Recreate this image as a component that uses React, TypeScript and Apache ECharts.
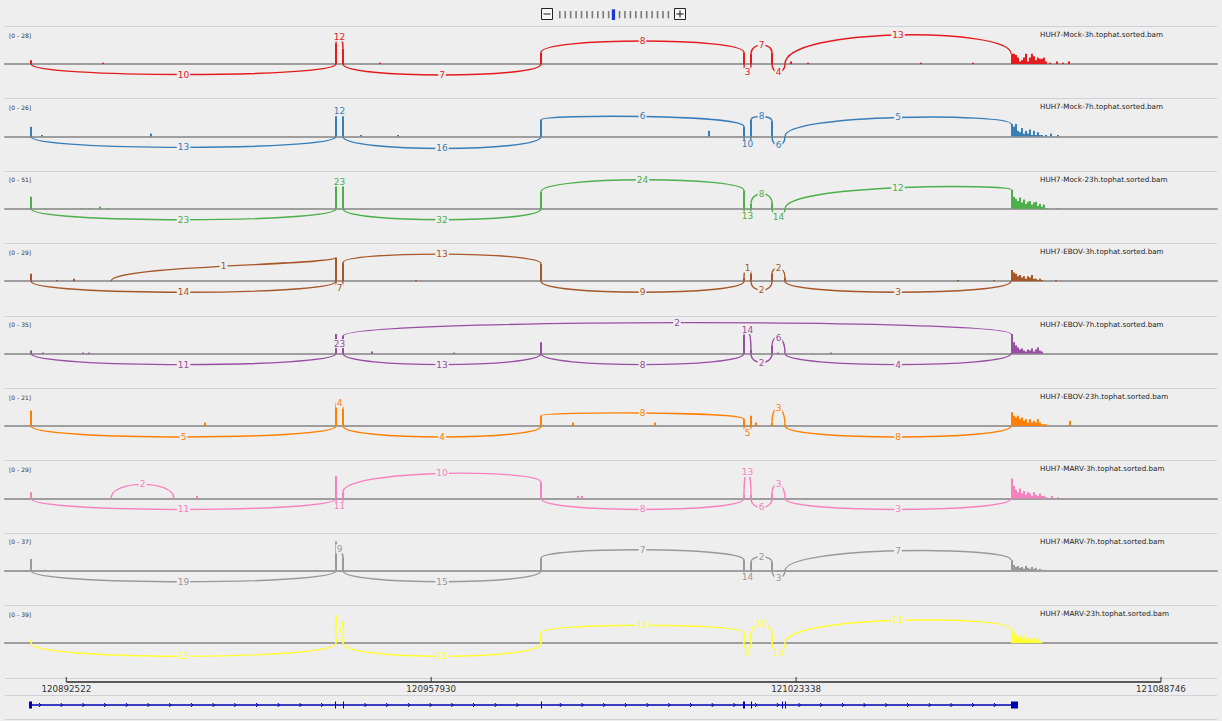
import React, { useEffect, useRef } from 'react';
import * as echarts from 'echarts';

// ---------- genomic window & ruler ----------
const X_MIN = 120881530;
const X_MAX = 121098790;
const AXIS_TICKS = [120892522, 120957930, 121023338, 121088746];

// ---------- splice sites (genomic) ----------
const E1 = 120886191;
const CR1 = 120900531;
const CR2 = 120911824;
const E2A = 120940864;
const E2B = 120942119;
const E3 = 120977612;
const E4A = 121014001;
const E4B = 121015256;
const E5A = 121019020;
const E5B = 121021350;
const E6 = 121061862;
const TAIL_BIN = 358;

// gene model exons [start, end]
const GENE_EXONS = [
  [120885832, 120886370],
  [120940685, 120940864],
  [120942119, 120942298],
  [120977612, 120977791],
  [121013822, 121014180],
  [121015256, 121015435],
  [121020813, 121020992],
  [121021350, 121021530],
  [121061862, 121063117],
];

const SAMPLES = [
  'HUH7-Mock-3h.tophat.sorted.bam',
  'HUH7-Mock-7h.tophat.sorted.bam',
  'HUH7-Mock-23h.tophat.sorted.bam',
  'HUH7-EBOV-3h.tophat.sorted.bam',
  'HUH7-EBOV-7h.tophat.sorted.bam',
  'HUH7-EBOV-23h.tophat.sorted.bam',
  'HUH7-MARV-3h.tophat.sorted.bam',
  'HUH7-MARV-7h.tophat.sorted.bam',
  'HUH7-MARV-23h.tophat.sorted.bam',
];
const RANGE_MAX = [28, 26, 51, 29, 35, 21, 29, 37, 39];
const COLORS = ['#e41a1c', '#377eb8', '#4daf4a', '#a65628', '#984ea3', '#ff7f00', '#f781bf', '#999999', '#ffff33'];

// ---------- coverage: isolated positions [pos, depth] ----------
const COV_MOCK_3H = [[E1, 3], [120899097, 1], [E2A, 16], [E2B, 12], [120948751, 1], [E3, 9], [E4A, 9], [E4B, 8], [E5A, 9], [121022426, 2], [121025473, 1], [121045729, 1], [121055051, 1], [121068854, 1], [121070108, 2], [121071184, 1], [121072259, 2]];
const COV_MOCK_7H = [[E1, 7], [120888163, 1], [120907702, 2], [E2A, 14], [E2B, 14], [120945345, 1], [120951978, 1], [E3, 12], [121007727, 4], [E4A, 7], [E4B, 12], [E5A, 11], [121068136, 1], [121069033, 2], [121070288, 1]];
const COV_MOCK_23H = [[E1, 17], [120888700, 1], [120895333, 1], [120896767, 1], [120898559, 3], [120899994, 1], [E2A, 31], [E2B, 31], [E3, 24], [E4A, 26], [E4B, 7], [E5A, 8], [121070288, 1]];
const COV_EBOV_3H = [[E1, 6], [120890851, 1], [120893899, 2], [E2A, 19], [E2B, 15], [120955205, 1], [E3, 14], [E4A, 3], [E4B, 6], [E5A, 6], [E5B, 3], [121052362, 1], [121058815, 1], [121069929, 1]];
const COV_EBOV_7H = [[E1, 3], [120888342, 1], [120895512, 1], [120896588, 1], [E2A, 19], [E2B, 17], [120947317, 2], [120962016, 1], [E3, 11], [E4A, 18], [E4B, 4], [E5A, 8], [121020096, 1], [121029596, 1]];
const COV_EBOV_23H = [[E1, 9], [120917381, 2], [E2A, 13], [E2B, 10], [E3, 6], [120983348, 2], [120998047, 2], [E4A, 4], [E4B, 6], [121016152, 2], [E5A, 2], [121072439, 3]];
const COV_MARV_3H = [[E1, 5], [120915947, 2], [E2A, 18], [E2B, 5], [E3, 13], [120984244, 2], [120984961, 2], [E4A, 3], [E4B, 3], [E5A, 4], [121069212, 2], [121070288, 1]];
const COV_MARV_7H = [[E1, 12], [120888700, 1], [E2A, 30], [E2B, 14], [E3, 13], [E4A, 11], [E4B, 9], [E5A, 9]];
const COV_MARV_23H = [[E1, 4], [E2A, 30], [E2B, 24], [E3, 11], [E4A, 11], [E4B, 9], [E5A, 9]];

// ---------- coverage over the last exon (bins from E6) ----------
const TAIL_MOCK_3H = [8, 8, 7, 5, 2, 3, 5, 8, 2, 5, 8, 6, 3, 5, 4, 4, 5, 2];
const TAIL_MOCK_7H = [9, 7, 9, 4, 3, 6, 2, 4, 2, 5, 1, 4, 1, 3, 1, 1];
const TAIL_MOCK_23H = [27, 17, 14, 11, 16, 9, 13, 7, 10, 11, 6, 9, 10, 4, 7, 3, 6, 1];
const TAIL_EBOV_3H = [9, 7, 6, 4, 5, 3, 4, 2, 4, 3, 5, 2, 2, 1, 2, 1];
const TAIL_EBOV_7H = [19, 11, 8, 6, 4, 5, 3, 2, 4, 3, 5, 2, 4, 6, 3, 2];
const TAIL_EBOV_23H = [8, 6, 5, 6, 4, 5, 3, 4, 2, 4, 2, 3, 2, 4, 2, 1, 1, 1];
const TAIL_MARV_3H = [16, 10, 7, 5, 8, 4, 6, 3, 5, 4, 2, 5, 3, 2, 4, 2, 2, 1];
const TAIL_MARV_7H = [11, 6, 4, 5, 3, 4, 2, 5, 3, 2, 4, 2, 3, 1, 2, 1, 1, 1];
const TAIL_MARV_23H = [15, 11, 9, 6, 8, 5, 9, 4, 6, 5, 4, 6, 3, 5, 2, 1];

// ---------- junctions [from, to, reads, side(1 above/-1 below), arc height in coverage units] ----------
const JX_MOCK_3H = [[E1, E2A, 10, -1, 8.2], [E2A, E2B, 12, 1, 21], [E2B, E3, 7, -1, 8.6], [E3, E4A, 8, 1, 17.9], [E4A, E4B, 3, -1, 6.2], [E4B, E5A, 7, 1, 14.8], [E5A, E5B, 4, -1, 6.2], [E5B, E6, 13, 1, 22.6]];
const JX_MOCK_7H = [[E1, E2A, 13, -1, 7.9], [E2A, E2B, 12, 1, 18.1], [E2B, E3, 16, -1, 8.7], [E3, E4A, 6, 1, 14.4], [E4A, E4B, 10, -1, 5.8], [E4B, E5A, 8, 1, 14.4], [E5A, E5B, 6, -1, 6.5], [E5B, E6, 5, 1, 13.7]];
const JX_MOCK_23H = [[E1, E2A, 23, -1, 15.6], [E2A, E2B, 23, 1, 38.3], [E2B, E3, 32, -1, 15.6], [E3, E4A, 24, 1, 41.1], [E4A, E4B, 13, -1, 9.9], [E4B, E5A, 8, 1, 21.3], [E5A, E5B, 14, -1, 11.3], [E5B, E6, 12, 1, 29.8]];
const JX_EBOV_3H = [[E1, E2A, 14, -1, 8.9], [CR1, E2A, 1, 1, 12.1], [E2A, E2B, 7, -1, 5.6], [E2B, E3, 13, 1, 21.8], [E3, E4A, 9, -1, 8.9], [E4A, E4B, 1, 1, 10.5], [E4B, E5A, 2, -1, 7.3], [E5A, E5B, 2, 1, 10.5], [E5B, E6, 3, -1, 8.9]];
const JX_EBOV_7H = [[E1, E2A, 11, -1, 10.7], [E2A, E2B, 23, 1, 9.7], [E2B, E3, 13, -1, 10.7], [E2B, E6, 2, 1, 30.1], [E3, E4A, 8, -1, 10.7], [E4A, E4B, 14, 1, 23.3], [E4B, E5A, 2, -1, 8.8], [E5A, E5B, 6, 1, 15.6], [E5B, E6, 4, -1, 10.7]];
const JX_EBOV_23H = [[E1, E2A, 5, -1, 6.4], [E2A, E2B, 4, 1, 13.4], [E2B, E3, 4, -1, 6.4], [E3, E4A, 8, 1, 7.6], [E4A, E4B, 5, -1, 4.1], [E5A, E5B, 3, 1, 10.5], [E5B, E6, 8, -1, 6.4]];
const JX_MARV_3H = [[E1, E2A, 11, -1, 8.9], [CR1, CR2, 2, 1, 11.3], [E2A, E2B, 11, -1, 6.4], [E2B, E3, 10, 1, 20.1], [E3, E4A, 8, -1, 8.9], [E4A, E4B, 13, 1, 20.9], [E4B, E5A, 6, -1, 7.3], [E5A, E5B, 3, 1, 11.3], [E5B, E6, 3, -1, 8.9]];
const JX_MARV_7H = [[E1, E2A, 19, -1, 11.3], [E2A, E2B, 9, 1, 22.6], [E2B, E3, 15, -1, 11.3], [E3, E4A, 7, 1, 21.6], [E4A, E4B, 14, -1, 6.2], [E4B, E5A, 2, 1, 14.4], [E5A, E5B, 3, -1, 7.2], [E5B, E6, 7, 1, 20.6]];
const JX_MARV_23H = [[E1, E2A, 13, -1, 14.1], [E2A, E2B, 19, 1, 11.9], [E2B, E3, 21, -1, 14.1], [E3, E4A, 14, 1, 19.5], [E4A, E4B, 9, -1, 10.8], [E4B, E5A, 10, 1, 20.6], [E5A, E5B, 14, -1, 10.8], [E5B, E6, 11, 1, 24.9]];

const TRACKS = [
  { cov: COV_MOCK_3H, tail: TAIL_MOCK_3H, jx: JX_MOCK_3H },
  { cov: COV_MOCK_7H, tail: TAIL_MOCK_7H, jx: JX_MOCK_7H },
  { cov: COV_MOCK_23H, tail: TAIL_MOCK_23H, jx: JX_MOCK_23H },
  { cov: COV_EBOV_3H, tail: TAIL_EBOV_3H, jx: JX_EBOV_3H },
  { cov: COV_EBOV_7H, tail: TAIL_EBOV_7H, jx: JX_EBOV_7H },
  { cov: COV_EBOV_23H, tail: TAIL_EBOV_23H, jx: JX_EBOV_23H },
  { cov: COV_MARV_3H, tail: TAIL_MARV_3H, jx: JX_MARV_3H },
  { cov: COV_MARV_7H, tail: TAIL_MARV_7H, jx: JX_MARV_7H },
  { cov: COV_MARV_23H, tail: TAIL_MARV_23H, jx: JX_MARV_23H },
];

// ---------- layout ----------
const W = 1222;
const H = 721;
const LEFT = 5;
const PLOT_W = 1212;
const TRACK_TOP = 26;
const TRACK_STEP = 72.4;
const ABOVE_PX = 36;
const BELOW_PX = 34;
const FONT = 'DejaVu Sans';
const BG = '#eeeeee';

function buildOption() {
  const grid: any[] = [];
  const xAxis: any[] = [];
  const yAxis: any[] = [];
  const series: any[] = [];
  const graphic: any[] = [];

  TRACKS.forEach((t, i) => {
    const top = TRACK_TOP + TRACK_STEP * i;
    const max = RANGE_MAX[i];
    const color = COLORS[i];
    grid.push({ left: LEFT, width: PLOT_W, top: top + 2, height: ABOVE_PX + BELOW_PX });
    xAxis.push({
      gridIndex: i, type: 'value', min: X_MIN, max: X_MAX,
      axisLine: { show: true, onZero: true, lineStyle: { color: '#9e9e9e', width: 2 } },
      axisTick: { show: false }, axisLabel: { show: false }, splitLine: { show: false },
    });
    yAxis.push({
      gridIndex: i, type: 'value', min: -max * BELOW_PX / ABOVE_PX, max,
      axisLine: { show: false }, axisTick: { show: false }, axisLabel: { show: false }, splitLine: { show: false },
    });
    const bars = [
      ...t.cov,
      ...t.tail.map((v, k) => [E6 + TAIL_BIN / 2 + k * TAIL_BIN, v]),
    ];
    const covAt = (pos: number) => {
      let best = 0;
      let bestD = 260;
      for (const [p, v] of bars) {
        const d = Math.abs(p - pos);
        if (d < bestD) { bestD = d; best = v; }
      }
      return best;
    };
    series.push({
      type: 'bar', xAxisIndex: i, yAxisIndex: i, data: bars, barWidth: 2,
      itemStyle: { color }, silent: true, z: 2,
    });
    series.push({
      type: 'custom', xAxisIndex: i, yAxisIndex: i, data: t.jx, z: 3, clip: false, silent: true,
      renderItem: (params: any, api: any) => {
        const a = api.value(0);
        const b = api.value(1);
        const reads = api.value(2);
        const side = api.value(3);
        const h = api.value(4);
        const p1 = api.coord([a, 0]);
        const p2 = api.coord([b, 0]);
        const base = p1[1];
        const y1 = side > 0 ? api.coord([a, covAt(a)])[1] : base;
        const y2 = side > 0 ? api.coord([b, covAt(b)])[1] : base;
        const apexY = api.coord([a, side * h])[1];
        const cy = (apexY - 0.125 * (y1 + y2)) / 0.75;
        return {
          type: 'group',
          children: [
            {
              type: 'bezierCurve',
              shape: { x1: p1[0], y1, x2: p2[0], y2, cpx1: p1[0], cpy1: cy, cpx2: p2[0], cpy2: cy },
              style: { stroke: color, fill: 'none', lineWidth: 1.4 },
            },
            {
              type: 'text', x: (p1[0] + p2[0]) / 2, y: apexY,
              style: {
                text: String(reads), fill: color, fontSize: 9, fontFamily: FONT,
                align: 'center', verticalAlign: 'middle', backgroundColor: BG, padding: [0, 1],
              },
            },
          ],
        };
      },
    });
    graphic.push({
      type: 'text', left: 9, top: top + 6,
      style: { text: `[0 - ${max}]`, fill: '#333', fontSize: 6, fontFamily: FONT },
    });
    graphic.push({
      type: 'text', left: 1040, top: top + 5,
      style: { text: SAMPLES[i], fill: '#222', fontSize: 7.2, fontFamily: FONT },
    });
  });

  // ruler grid (index 9)
  grid.push({ left: LEFT, width: PLOT_W, top: 677, height: 5 });
  xAxis.push({ gridIndex: 9, type: 'value', min: X_MIN, max: X_MAX, show: false });
  yAxis.push({ gridIndex: 9, type: 'value', min: 0, max: 1, show: false });
  series.push({
    type: 'custom', xAxisIndex: 9, yAxisIndex: 9, data: AXIS_TICKS.map((v) => [v]), clip: false, silent: true,
    renderItem: (params: any, api: any) => {
      const v = api.value(0);
      const p = api.coord([v, 0]);
      const q = api.coord([v, 1]);
      const children: any[] = [];
      if (params.dataIndex === 0) {
        const end = api.coord([AXIS_TICKS[AXIS_TICKS.length - 1], 0]);
        children.push({ type: 'line', shape: { x1: p[0], y1: p[1], x2: end[0], y2: end[1] }, style: { stroke: '#5a5a5a', lineWidth: 2 } });
      }
      children.push({ type: 'line', shape: { x1: p[0], y1: p[1], x2: q[0], y2: q[1] }, style: { stroke: '#333', lineWidth: 1 } });
      children.push({
        type: 'text', x: p[0], y: p[1] + 7,
        style: { text: String(v), fill: '#333', fontSize: 8.7, fontFamily: FONT, align: 'center', verticalAlign: 'middle' },
      });
      return { type: 'group', children };
    },
  });

  // gene model grid (index 10)
  grid.push({ left: LEFT, width: PLOT_W, top: 697, height: 16 });
  xAxis.push({ gridIndex: 10, type: 'value', min: X_MIN, max: X_MAX, show: false });
  yAxis.push({ gridIndex: 10, type: 'value', min: -1, max: 1, show: false });
  const GENE_COLOR = '#0000b2';
  series.push({
    type: 'custom', xAxisIndex: 10, yAxisIndex: 10, data: GENE_EXONS, clip: false, silent: true,
    renderItem: (params: any, api: any) => {
      const s = api.value(0);
      const e = api.value(1);
      const a = api.coord([s, 0.44]);
      const b = api.coord([e, -0.44]);
      const children: any[] = [];
      if (params.dataIndex === 0) {
        const l = api.coord([GENE_EXONS[0][0], 0]);
        const r = api.coord([GENE_EXONS[GENE_EXONS.length - 1][1], 0]);
        children.push({ type: 'line', shape: { x1: l[0], y1: l[1], x2: r[0], y2: r[1] }, style: { stroke: GENE_COLOR, lineWidth: 1.5 } });
        const ex = GENE_EXONS.map(([u, v]) => [api.coord([u, 0])[0], api.coord([v, 0])[0]]);
        for (let x = l[0] + 11; x < r[0] - 4; x += 21.7) {
          if (ex.some(([u, v]) => x > u - 4 && x < v + 4)) continue;
          children.push({
            type: 'polyline',
            shape: { points: [[x - 1, l[1] - 2], [x + 1, l[1]], [x - 1, l[1] + 2]] },
            style: { stroke: GENE_COLOR, fill: 'none', lineWidth: 1 },
          });
        }
      }
      children.push({
        type: 'rect',
        shape: { x: a[0], y: a[1], width: Math.max(1, b[0] - a[0]), height: b[1] - a[1] },
        style: { fill: GENE_COLOR },
      });
      return { type: 'group', children };
    },
  });

  // separators
  const seps: number[] = [];
  for (let i = 0; i <= 9; i++) seps.push(Math.round(TRACK_TOP + TRACK_STEP * i) + 0.5);
  seps.push(695.5, 719.5);
  seps.forEach((y) => {
    graphic.push({ type: 'line', silent: true, z: -1, shape: { x1: LEFT, y1: y, x2: LEFT + PLOT_W, y2: y }, style: { stroke: '#d0d0d8', lineWidth: 1 } });
  });

  // zoom widget at top
  graphic.push({ type: 'rect', shape: { x: 541.5, y: 8.5, width: 11, height: 11 }, style: { fill: '#f7f7f7', stroke: '#222', lineWidth: 1 } });
  graphic.push({ type: 'line', shape: { x1: 543.5, y1: 14, x2: 550.5, y2: 14 }, style: { stroke: '#666', lineWidth: 1.5 } });
  for (let k = 0; k < 21; k++) {
    const x = 559 + k * 5.43;
    if (k === 10) {
      graphic.push({ type: 'rect', shape: { x: x - 1.5, y: 9.3, width: 3.3, height: 10.7 }, style: { fill: '#1c37d4' } });
    } else {
      graphic.push({ type: 'rect', shape: { x, y: 11, width: 1.6, height: 7.3 }, style: { fill: '#7a7a7a' } });
    }
  }
  graphic.push({ type: 'rect', shape: { x: 674.5, y: 8.5, width: 11, height: 11 }, style: { fill: '#f7f7f7', stroke: '#222', lineWidth: 1 } });
  graphic.push({ type: 'line', shape: { x1: 676.5, y1: 14, x2: 683.5, y2: 14 }, style: { stroke: '#333', lineWidth: 1.2 } });
  graphic.push({ type: 'line', shape: { x1: 680, y1: 10.5, x2: 680, y2: 17.5 }, style: { stroke: '#333', lineWidth: 1.2 } });

  return {
    animation: false,
    backgroundColor: BG,
    grid,
    xAxis,
    yAxis,
    series,
    graphic,
  };
}

export default function App() {
  const ref = useRef<HTMLDivElement>(null);
  useEffect(() => {
    if (!ref.current) return;
    const chart = echarts.init(ref.current, undefined, { renderer: 'svg' });
    chart.setOption(buildOption() as any);
    return () => chart.dispose();
  }, []);
  return (
    <div
      ref={ref}
      style={{ position: 'fixed', left: 0, top: 0, width: W, height: H, background: BG }}
    />
  );
}
